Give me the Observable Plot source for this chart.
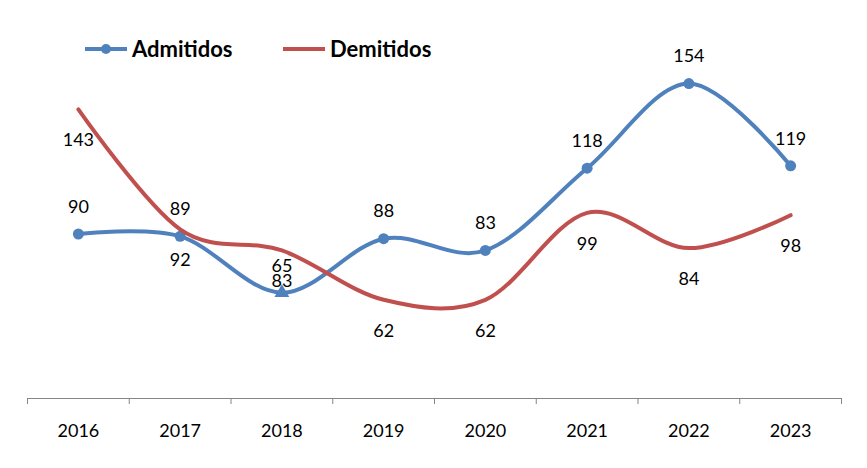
<!DOCTYPE html>
<html>
<head>
<meta charset="utf-8">
<script src="https://cdn.jsdelivr.net/npm/d3@7"></script>
<script src="https://cdn.jsdelivr.net/npm/@observablehq/plot@0.6"></script>
<style>
  body { margin: 0; background: #fff; }
  #wrap { position: relative; width: 867px; height: 468px; font-family: Lato, sans-serif; }
  #legend { position: absolute; left: 0; top: 0; }
</style>
</head>
<body>
<div id="wrap"></div>
<script>
const years = [2016, 2017, 2018, 2019, 2020, 2021, 2022, 2023];
const admitidos = [90, 89, 65, 88, 83, 118, 154, 119];
const demitidos = [143, 92, 83, 62, 62, 99, 84, 98];
const seriesNames = ["Admitidos", "Demitidos"];
const triangleYear = 2018;

const blue = "#4F81BD";
const red = "#C0504D";
const axisGray = "#868686";

const adm = years.map((year, i) => ({year, value: admitidos[i]}));
const dem = years.map((year, i) => ({year, value: demitidos[i]}));
const boundaries = d3.range(years[0] - 0.5, years[years.length - 1] + 1, 1);

const chart = Plot.plot({
  width: 867,
  height: 468,
  marginLeft: 27,
  marginRight: 26,
  marginTop: 22,
  marginBottom: 70,
  style: {fontFamily: "Lato, sans-serif", fontSize: "18px", color: "#000", background: "#fff"},
  x: {type: "linear", domain: [years[0] - 0.5, years[years.length - 1] + 0.5], axis: null},
  y: {domain: [20, 180], axis: null},
  marks: [
    Plot.ruleY([20], {stroke: axisGray, strokeWidth: 1}),
    Plot.axisX(boundaries, {tickSize: 6, tickFormat: () => "", stroke: axisGray, strokeWidth: 1, label: null}),
    Plot.axisX(years, {tickSize: 0, tickPadding: 26, tickFormat: d => String(d), fontSize: 18, fill: "#000", label: null}),
    Plot.line(adm, {x: "year", y: "value", stroke: blue, strokeWidth: 4, curve: "cardinal"}),
    Plot.dot(adm.filter(d => d.year !== triangleYear), {x: "year", y: "value", fill: blue, r: 5.5, symbol: "circle"}),
    Plot.dot(adm.filter(d => d.year === triangleYear), {x: "year", y: "value", fill: blue, r: 5.5, symbol: "triangle"}),
    Plot.line(dem, {x: "year", y: "value", stroke: red, strokeWidth: 4, curve: "cardinal"}),
    Plot.text(adm, {x: "year", y: "value", text: d => String(d.value), dy: -27, fill: "#000", fontSize: 18}),
    Plot.text(dem, {x: "year", y: "value", text: d => String(d.value), dy: 31, fill: "#000", fontSize: 18})
  ]
});

const wrap = document.getElementById("wrap");
wrap.appendChild(chart);

// Legend overlay
const ns = "http://www.w3.org/2000/svg";
const leg = document.createElementNS(ns, "svg");
leg.setAttribute("id", "legend");
leg.setAttribute("width", 867);
leg.setAttribute("height", 80);
const items = [
  {name: seriesNames[0], color: blue, marker: true, x0: 85, tx: 132},
  {name: seriesNames[1], color: red, marker: false, x0: 283, tx: 330}
];
for (const it of items) {
  const l = document.createElementNS(ns, "line");
  l.setAttribute("x1", it.x0); l.setAttribute("x2", it.x0 + 42);
  l.setAttribute("y1", 49); l.setAttribute("y2", 49);
  l.setAttribute("stroke", it.color); l.setAttribute("stroke-width", 4);
  leg.appendChild(l);
  if (it.marker) {
    const c = document.createElementNS(ns, "circle");
    c.setAttribute("cx", it.x0 + 21); c.setAttribute("cy", 49); c.setAttribute("r", 5);
    c.setAttribute("fill", it.color);
    leg.appendChild(c);
  }
  const t = document.createElementNS(ns, "text");
  t.setAttribute("x", it.tx); t.setAttribute("y", 57);
  t.setAttribute("font-family", "Lato, sans-serif");
  t.setAttribute("font-weight", "bold");
  t.setAttribute("font-size", 22);
  t.setAttribute("fill", "#000");
  t.textContent = it.name;
  leg.appendChild(t);
}
wrap.appendChild(leg);
</script>
</body>
</html>
